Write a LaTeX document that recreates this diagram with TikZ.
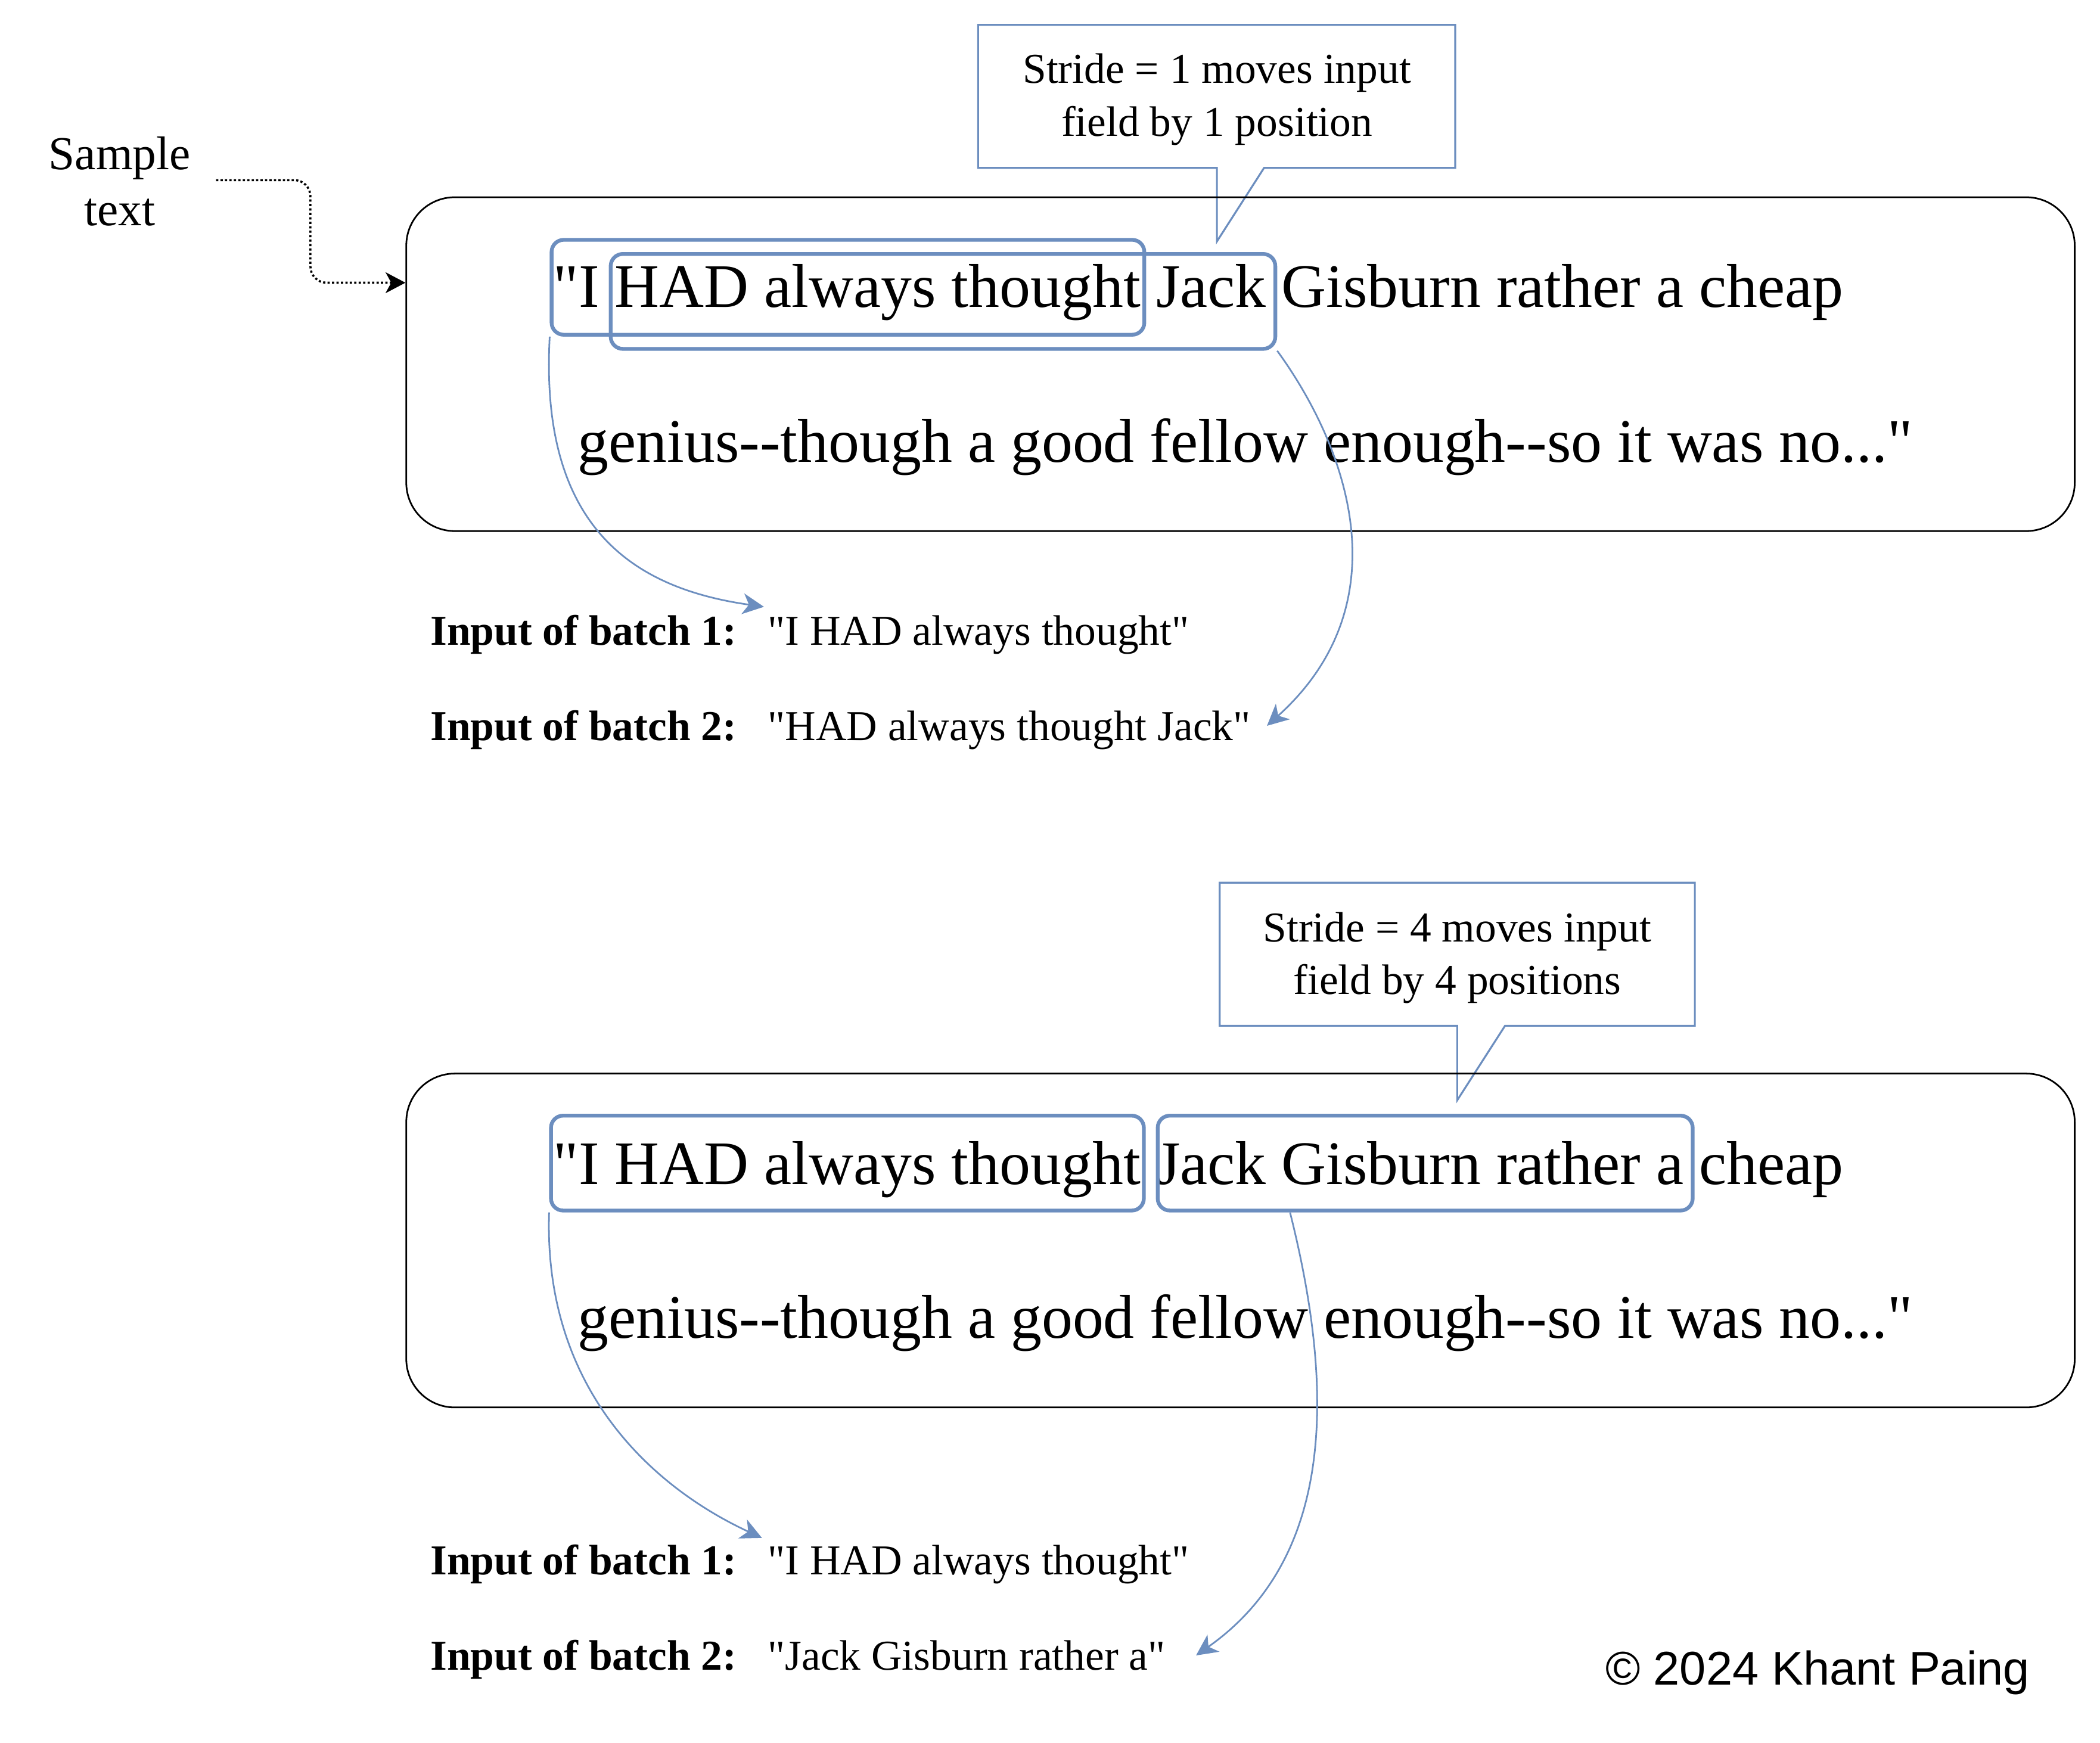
\documentclass[tikz,border=0pt]{standalone}
\usepackage{fontspec}
\setmainfont{Liberation Serif}[Ligatures=TeXOff]
\newfontfamily\copyfont{Liberation Sans}
\usepackage{xcolor}
\usetikzlibrary{arrows.meta,positioning}
\definecolor{strideblue}{HTML}{6C8EBF}

\begin{document}
\begin{tikzpicture}[
        textbox/.style={draw, rounded corners=3.6mm, line width=0.35pt, minimum width=12.394cm, minimum height=2.48cm, inner sep=0pt},
        window/.style={draw=strideblue, rounded corners=0.9mm, line width=0.8pt, minimum height=0.705cm, inner sep=0pt},
        callout/.style={draw=strideblue, line width=0.4pt},
        mainline/.style={anchor=base west, inner sep=0pt, font=\fontsize{13.08}{15}\selectfont},
        note/.style={align=center, inner sep=0pt, font=\fontsize{9}{11.12}\selectfont},
        batchlabel/.style={anchor=base west, inner sep=0pt, font=\fontsize{9}{11}\selectfont\bfseries},
        batchtext/.style={anchor=base west, inner sep=0pt, font=\fontsize{9}{11}\selectfont},
        feed/.style={draw=strideblue, line width=0.35pt, -{Stealth[length=4.5pt,width=4.4pt,inset=1.3pt]}},
        samplearrow/.style={line width=0.45pt, dash pattern=on 0.47pt off 0.47pt, rounded corners=1.2mm, -{Stealth[length=4.2pt,width=4.4pt,inset=1.2pt]}}
    ]
    \useasboundingbox (0,0) rectangle (15.6,-12.944);

    % sample text label
    \node[align=center, inner sep=0pt, font=\fontsize{10}{11.9}\selectfont] (sample) at (0.889,-1.346) {Sample\\text};
    \coordinate (samplefrom) at (1.605,-1.338);

    % stride = 1
    \draw[callout] (9.04,-1.247) -- (7.266,-1.247) -- (7.266,-0.185) -- (10.81,-0.185) -- (10.81,-1.247) -- (9.39,-1.247) -- (9.04,-1.793) -- cycle;
    \node[note] (stride1) at (9.04,-0.739) {Stride = 1 moves input\\field by 1 position};

    \node[textbox] (box1) at (9.215,-2.705) {};
    \node[mainline] (row1a) at (4.104,-2.283) {"I HAD always thought Jack Gisburn rather a cheap};
    \node[mainline] (row1b) at (4.284,-3.434) {genius-\kern0pt-though a good fellow enough-\kern0pt-so it was no..."};
    \node[window, minimum width=4.403cm] (win1a) at (6.299,-2.134) {};
    \node[window, minimum width=4.937cm] (win1b) at (7.005,-2.239) {};

    \draw[samplearrow] (samplefrom) -| ++(0.701,-0.762) -- ([yshift=6.05mm]box1.west);

    \node[batchlabel] (batch1a) at (3.19,-4.792) {Input of batch 1:};
    \node[batchtext] (quote1a) at (5.696,-4.792) {"I HAD always thought"};
    \node[batchlabel] (batch1b) at (3.19,-5.500) {Input of batch 2:};
    \node[batchtext] (quote1b) at (5.696,-5.500) {"HAD always thought Jack"};

    \draw[feed] (win1a.south west) .. controls +(-0.077,-1.414) and +(-0.975,0.138) .. ([shift={(-0.021,0.058)}]quote1a.north west);
    \draw[feed] (win1b.south east) .. controls +(0.537,-0.739) and +(1.002,0.902) .. ([shift={(0.114,-0.118)}]quote1b.north east);

    % stride = 4
    \draw[callout] (10.825,-7.62) -- (9.06,-7.62) -- (9.06,-6.557) -- (12.59,-6.557) -- (12.59,-7.62) -- (11.18,-7.62) -- (10.825,-8.173) -- cycle;
    \node[note] (stride4) at (10.825,-7.114) {Stride = 4 moves input\\field by 4 positions};

    \node[textbox] (box2) at (9.215,-9.215) {};
    \node[mainline] (row2a) at (4.104,-8.799) {"I HAD always thought Jack Gisburn rather a cheap};
    \node[mainline] (row2b) at (4.284,-9.940) {genius-\kern0pt-though a good fellow enough-\kern0pt-so it was no..."};
    \node[window, minimum width=4.404cm] (win2a) at (6.295,-8.640) {};
    \node[window, minimum width=3.974cm] (win2b) at (10.587,-8.640) {};

    \node[batchlabel] (batch2a) at (3.19,-11.696) {Input of batch 1:};
    \node[batchtext] (quote2a) at (5.696,-11.696) {"I HAD always thought"};
    \node[batchlabel] (batch2b) at (3.19,-12.404) {Input of batch 2:};
    \node[batchtext] (quote2b) at (5.696,-12.404) {"Jack Gisburn rather a"};

    \draw[feed] (win2a.south west) .. controls +(-0.043,-1.306) and +(-0.82,0.38) .. ([shift={(-0.036,0.045)}]quote2a.north west);
    \draw[feed] ([xshift=9.97mm]win2b.south west) .. controls +(0.303,-1.206) and +(1.079,0.758) .. ([shift={(0.22,-0.12)}]quote2b.north east);

    \node[anchor=base west, inner sep=0pt, font=\copyfont\fontsize{10}{12}\selectfont] (copy) at (11.92,-12.515) {© 2024 Khant Paing};
\end{tikzpicture}
\end{document}
